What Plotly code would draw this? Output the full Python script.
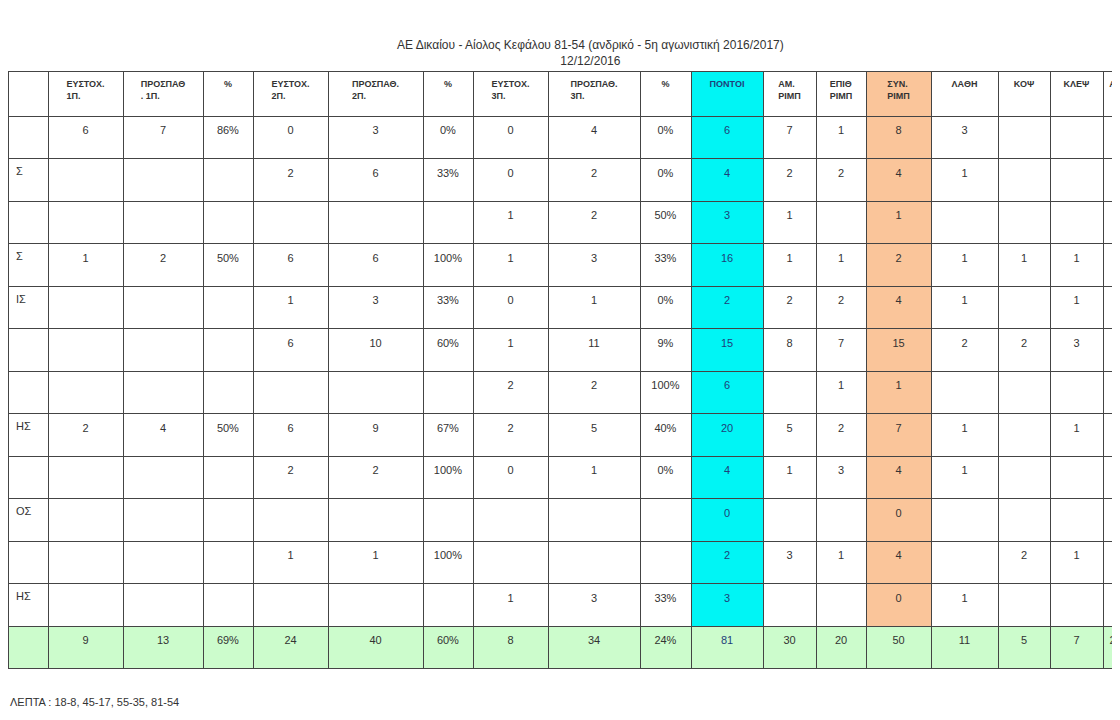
import plotly.graph_objects as go

title = "ΑΕ Δικαίου - Αίολος Κεφάλου 81-54 (ανδρικό - 5η αγωνιστική 2016/2017)<br>12/12/2016"
footer = "ΛΕΠΤΑ : 18-8, 45-17, 55-35, 81-54"

headers = ["", "ΕΥΣΤΟΧ.<br>1Π.", "ΠΡΟΣΠΑΘ<br>. 1Π.", "%", "ΕΥΣΤΟΧ.<br>2Π.", "ΠΡΟΣΠΑΘ.<br>2Π.", "%",
           "ΕΥΣΤΟΧ.<br>3Π.", "ΠΡΟΣΠΑΘ.<br>3Π.", "%", "ΠΟΝΤΟΙ", "ΑΜ.<br>ΡΙΜΠ", "ΕΠΙΘ<br>ΡΙΜΠ",
           "ΣΥΝ.<br>ΡΙΜΠ", "ΛΑΘΗ", "ΚΟΨ", "ΚΛΕΨ", "ΑΣ"]

names   = ["", "Σ", "", "Σ", "ΙΣ", "", "", "ΗΣ", "", "ΟΣ", "", "ΗΣ", ""]
ft_m    = ["6", "", "", "1", "", "", "", "2", "", "", "", "", "9"]
ft_a    = ["7", "", "", "2", "", "", "", "4", "", "", "", "", "13"]
ft_p    = ["86%", "", "", "50%", "", "", "", "50%", "", "", "", "", "69%"]
p2_m    = ["0", "2", "", "6", "1", "6", "", "6", "2", "", "1", "", "24"]
p2_a    = ["3", "6", "", "6", "3", "10", "", "9", "2", "", "1", "", "40"]
p2_p    = ["0%", "33%", "", "100%", "33%", "60%", "", "67%", "100%", "", "100%", "", "60%"]
p3_m    = ["0", "0", "1", "1", "0", "1", "2", "2", "0", "", "", "1", "8"]
p3_a    = ["4", "2", "2", "3", "1", "11", "2", "5", "1", "", "", "3", "34"]
p3_p    = ["0%", "0%", "50%", "33%", "0%", "9%", "100%", "40%", "0%", "", "", "33%", "24%"]
points  = ["6", "4", "3", "16", "2", "15", "6", "20", "4", "0", "2", "3", "81"]
reb_d   = ["7", "2", "1", "1", "2", "8", "", "5", "1", "", "3", "", "30"]
reb_o   = ["1", "2", "", "1", "2", "7", "1", "2", "3", "", "1", "", "20"]
reb_t   = ["8", "4", "1", "2", "4", "15", "1", "7", "4", "0", "4", "0", "50"]
errors  = ["3", "1", "", "1", "1", "2", "", "1", "1", "", "", "1", "11"]
blocks  = ["", "", "", "1", "", "2", "", "", "", "", "2", "", "5"]
steals  = ["", "", "", "1", "1", "3", "", "1", "", "", "1", "", "7"]
assists = ["1", "", "", "4", "3", "3", "", "1", "", "", "3", "", "21"]

cols = [names, ft_m, ft_a, ft_p, p2_m, p2_a, p2_p, p3_m, p3_a, p3_p, points,
        reb_d, reb_o, reb_t, errors, blocks, steals, assists]
widths = [40, 75, 80, 50, 75, 95, 50, 75, 92, 51, 72, 53, 50, 65, 67, 52, 53, 25]

n = len(names)
GREEN, CYAN, ORANGE = "#ccfccc", "#00f5f5", "#fac59a"
fills, fonts = [], []
for i, c in enumerate(cols):
    base = CYAN if i == 10 else ORANGE if i == 13 else "white"
    fills.append([base] * (n - 1) + [GREEN])
    fonts.append(["#1f3f7a" if i == 10 else "#333"] * n)

def cell_txt(c, i):
    if i == 0:
        return c
    return ["<br>" + v for v in c]

hdr = []
for h in headers:
    hdr.append(("<br>" if "<br>" in h else "<br><br>") + "<b>" + h.replace("<br>", "</b><br><b>") + "</b>")
hdr_fill = ["white"] * len(headers)
hdr_fill[10] = CYAN
hdr_fill[13] = ORANGE
hdr_font = ["#333"] * len(headers)
hdr_font[10] = "#1f3f7a"

fig = go.Figure(go.Table(
    columnwidth=widths,
    header=dict(values=hdr, fill_color=hdr_fill, line_color="#444", height=45,
                font=dict(family="Liberation Sans, Arial", size=9, color=hdr_font), align="center"),
    cells=dict(values=[cell_txt(c, i) for i, c in enumerate(cols)], fill_color=fills,
               line_color="#444", height=42.5,
               font=dict(family="Liberation Sans, Arial", size=11, color=fonts),
               align=["left"] + ["center"] * (len(cols) - 1)),
    domain=dict(x=[0, 1], y=[0, 0.912]),
))
fig.add_annotation(text=title, x=0.52, y=1 - 28 / 720, xref="paper", yref="paper",
                   showarrow=False, yanchor="top",
                   font=dict(family="Liberation Sans, Arial", size=12, color="#333"))
fig.add_annotation(text=footer, x=0, y=1 - 694 / 720, xref="paper", yref="paper",
                   showarrow=False, xanchor="left", yanchor="middle",
                   font=dict(family="Liberation Sans, Arial", size=11, color="#333"))
fig.update_layout(width=1120, height=720, autosize=False, margin=dict(l=0, r=0, t=0, b=0),
                  paper_bgcolor="white")
fig.write_html("out.html")
